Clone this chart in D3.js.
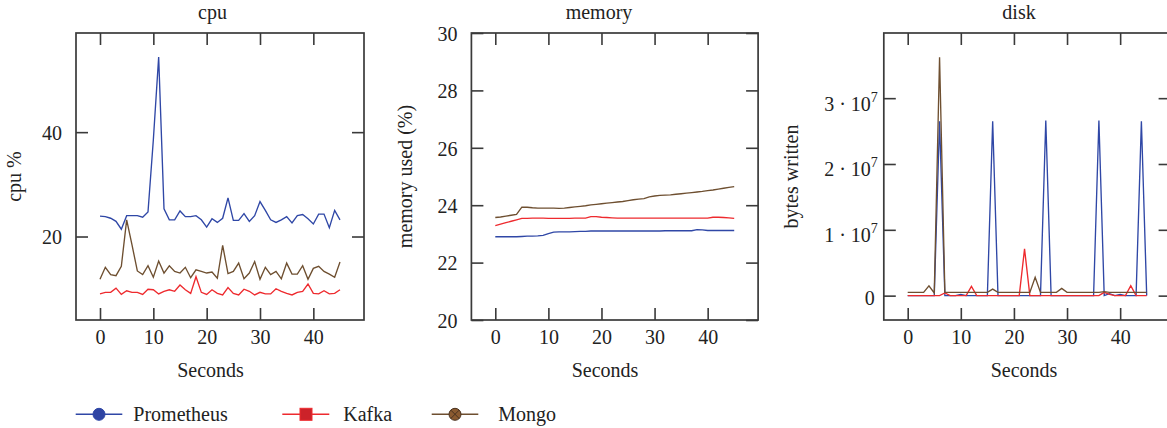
<!DOCTYPE html>
<html><head><meta charset="utf-8">
<script src="https://cdn.jsdelivr.net/npm/d3@7"></script>
<style>
html,body{margin:0;padding:0;background:#fff;}
svg text{font-family:"Liberation Serif","Times New Roman",serif;fill:#222;}
</style></head>
<body>
<svg id="chart" width="1167" height="428"></svg>
<script>
const seconds = [0,1,2,3,4,5,6,7,8,9,10,11,12,13,14,15,16,17,18,19,20,21,22,23,24,25,26,27,28,29,30,31,32,33,34,35,36,37,38,39,40,41,42,43,44,45];
const seriesNames = ["Prometheus","Kafka","Mongo"];
const panelTitles = ["cpu","memory","disk"];
const yLabels = ["cpu %","memory used (%)","bytes written"];
const xLabel = "Seconds";
const xTickValues = [0,10,20,30,40];
const cpuTickValues = [20,40];
const memTickValues = [20,22,24,26,28,30];
const diskTickValues = [0,1e7,2e7,3e7];
const diskTickLabels = [["0",""],["1 · 10","7"],["2 · 10","7"],["3 · 10","7"]];

const cpuPrometheus = [23.9,23.8,23.5,22.9,21.4,24.0,24.0,24.0,23.7,24.7,38.5,54.4,25.3,23.2,23.2,24.9,23.8,23.8,24.0,23.2,21.8,23.4,22.7,23.5,27.4,23.1,23.1,24.4,22.9,24.0,26.7,25.0,23.2,22.7,23.2,23.8,22.6,24.0,24.2,23.4,22.4,24.3,24.3,21.7,25.0,23.2];
const cpuKafka = [9.0,9.3,9.3,10.1,8.9,9.6,9.3,9.3,8.9,9.9,9.8,9.0,9.5,9.8,9.5,10.7,9.8,9.1,12.3,9.3,8.9,9.8,9.1,8.8,10.2,9.1,8.8,9.9,9.5,8.8,9.3,9.0,9.0,10.0,9.5,9.1,8.8,9.3,9.5,10.9,9.1,9.0,9.6,9.0,9.1,9.8];
const cpuMongo = [11.8,14.1,12.7,12.5,14.3,23.2,18.4,13.4,12.7,14.4,12.2,15.3,13.0,14.4,13.3,13.0,14.1,12.1,13.6,13.3,13.0,13.2,12.0,18.3,12.9,13.3,14.9,11.9,13.0,15.2,11.8,14.1,12.7,13.3,11.9,14.9,12.8,12.8,14.4,11.8,13.9,14.3,13.3,12.8,12.2,15.1];

const memPrometheus = [22.90,22.90,22.90,22.90,22.90,22.91,22.92,22.92,22.93,22.95,23.01,23.06,23.07,23.07,23.07,23.08,23.09,23.09,23.10,23.10,23.10,23.10,23.10,23.10,23.10,23.10,23.10,23.10,23.10,23.10,23.10,23.10,23.11,23.11,23.11,23.11,23.11,23.11,23.15,23.14,23.12,23.12,23.12,23.12,23.12,23.12];
const memKafka = [23.29,23.34,23.39,23.44,23.49,23.54,23.54,23.55,23.55,23.55,23.54,23.54,23.54,23.54,23.54,23.55,23.55,23.55,23.60,23.60,23.58,23.57,23.56,23.55,23.55,23.55,23.55,23.55,23.55,23.55,23.55,23.55,23.55,23.55,23.55,23.55,23.55,23.55,23.55,23.55,23.55,23.58,23.58,23.57,23.56,23.54];
const memMongo = [23.57,23.59,23.62,23.65,23.68,23.93,23.93,23.91,23.90,23.90,23.90,23.90,23.89,23.90,23.92,23.94,23.96,23.98,24.01,24.03,24.05,24.07,24.09,24.11,24.13,24.16,24.19,24.21,24.23,24.29,24.32,24.34,24.35,24.36,24.38,24.40,24.42,24.44,24.46,24.48,24.51,24.53,24.56,24.59,24.62,24.65];

const diskPrometheus = [0,0,0,0,0,0,2.65e7,0,0,0,2e5,0,0,0,0,0,2.65e7,0,0,0,0,0,0,0,0,0,2.66e7,0,0,0,0,0,0,0,0,0,2.66e7,0,3e5,0,2e5,0,0,0,2.65e7,0];
const diskKafka = [0,0,0,0,0,0,0,4e5,0,0,0,0,1.4e6,0,0,0,0,0,0,0,0,0,7.1e6,0,0,0,0,0,0,0,0,0,0,0,0,0,0,5e5,2e5,0,0,0,1.5e6,0,0,0];
const diskMongo = [5e5,5e5,5e5,5e5,1.5e6,4e5,3.62e7,5e5,5e5,5e5,5e5,5e5,5e5,5e5,5e5,5e5,1.0e6,5e5,5e5,5e5,5e5,5e5,5e5,5e5,2.8e6,5e5,5e5,5e5,5e5,1.1e6,5e5,5e5,5e5,5e5,5e5,5e5,5e5,6e5,5e5,5e5,5e5,5e5,5e5,5e5,5e5,5e5];

const colors = {Prometheus:"#2f47a6", Kafka:"#ee2a2e", Mongo:"#6e4f30"};
const markerFill = {Prometheus:"#2f44a3", Kafka:"#cc2229", Mongo:"#8a5a30"};

const svg = d3.select("#chart");
const frameColor = "#3a3a3a";
const plotTop = 33, plotBottom = 320;
const xDomain = [-4.5, 49.5];

const panels = [
  {title:panelTitles[0], ylabel:yLabels[0], xr:[76,364], yDomain:[4.0,59.0], yTicks:cpuTickValues,
   data:[cpuPrometheus,cpuKafka,cpuMongo], titleX:212.5, xlabX:210.5, ylabX:21},
  {title:panelTitles[1], ylabel:yLabels[1], xr:[471.4,758.1], yDomain:[20,30], yTicks:memTickValues,
   data:[memPrometheus,memKafka,memMongo], titleX:599, xlabX:605, ylabX:412},
  {title:panelTitles[2], ylabel:yLabels[2], xr:[883.8,1170.6], yDomain:[-0.37e7,3.99e7], yTicks:diskTickValues,
   data:[diskPrometheus,diskKafka,diskMongo], titleX:1019, xlabX:1024, ylabX:798, disk:true}
];

panels.forEach(p => {
  const x = d3.scaleLinear().domain(xDomain).range(p.xr);
  const y = d3.scaleLinear().domain(p.yDomain).range([plotBottom, plotTop]);
  const g = svg.append("g");

  const clipId = "clip" + p.title;
  svg.append("clipPath").attr("id", clipId).append("rect")
    .attr("x", p.xr[0]).attr("y", plotTop).attr("width", p.xr[1]-p.xr[0]).attr("height", plotBottom-plotTop);
  const lg = g.append("g").attr("clip-path", `url(#${clipId})`);
  p.data.forEach((arr, si) => {
    const line = d3.line().x((d,i) => x(seconds[i])).y(d => y(d));
    lg.append("path").datum(arr).attr("d", line)
      .attr("fill","none").attr("stroke", colors[seriesNames[si]])
      .attr("stroke-width",1.35).attr("stroke-linejoin","miter");
  });

  const axB = g.append("g").attr("transform",`translate(0,${plotBottom})`)
    .call(d3.axisBottom(x).tickValues(xTickValues).tickSize(-12).tickPadding(10));
  const axT = g.append("g").attr("transform",`translate(0,${plotTop})`)
    .call(d3.axisTop(x).tickValues(xTickValues).tickSize(-12).tickFormat(""));
  const axL = g.append("g").attr("transform",`translate(${p.xr[0]},0)`)
    .call(d3.axisLeft(y).tickValues(p.yTicks).tickSize(-12).tickPadding(14)
      .tickFormat(p.disk ? "" : d3.format("d")));
  const axR = g.append("g").attr("transform",`translate(${p.xr[1]},0)`)
    .call(d3.axisRight(y).tickValues(p.yTicks).tickSize(-12).tickFormat(""));
  [axB,axT,axL,axR].forEach(a => {
    a.select(".domain").remove();
    a.selectAll(".tick line").attr("stroke",frameColor).attr("stroke-width",1.6);
    a.selectAll(".tick text").attr("font-size",20).attr("fill","#222")
      .attr("font-family","Liberation Serif, serif");
  });
  axL.selectAll(".tick text").attr("dy","0.36em");

  if (p.disk) {
    p.yTicks.forEach((v, i) => {
      const t = g.append("text").attr("x", p.xr[0]-6 - (i===0?3:0)).attr("y", y(v) + (i===0?9:12.5))
        .attr("text-anchor","end").attr("font-size",20);
      t.append("tspan").text(diskTickLabels[i][0]);
      if (diskTickLabels[i][1]) {
        t.append("tspan").attr("font-size",14).attr("dy",-9).text(diskTickLabels[i][1]);
      }
    });
  }

  g.append("rect").attr("x",p.xr[0]).attr("y",plotTop).attr("width",p.xr[1]-p.xr[0]).attr("height",plotBottom-plotTop)
    .attr("fill","none").attr("stroke",frameColor).attr("stroke-width",1.7);

  g.append("text").attr("x",p.titleX).attr("y",19).attr("text-anchor","middle").attr("font-size",20).text(p.title);
  g.append("text").attr("x",p.xlabX).attr("y",377).attr("text-anchor","middle").attr("font-size",20).text(xLabel);
  g.append("text").attr("transform",`translate(${p.ylabX},${(plotTop+plotBottom)/2}) rotate(-90)`)
    .attr("text-anchor","middle").attr("font-size",20).text(p.ylabel);
});

const legendY = 414.3;
const legendItems = [
  {name:seriesNames[0], x0:75.7, x1:122.3, mx:99, tx:133.3, shape:"circle"},
  {name:seriesNames[1], x0:282.3, x1:329.3, mx:306, tx:343.3, shape:"square"},
  {name:seriesNames[2], x0:431.7, x1:478.3, mx:455, tx:498.3, shape:"otimes"}
];
const lgG = svg.append("g");
legendItems.forEach(it => {
  lgG.append("line").attr("x1",it.x0).attr("x2",it.x1).attr("y1",legendY).attr("y2",legendY)
    .attr("stroke",colors[it.name]).attr("stroke-width",1.5);
  if (it.shape==="circle") {
    lgG.append("circle").attr("cx",it.mx).attr("cy",legendY).attr("r",6)
      .attr("fill",markerFill[it.name]).attr("stroke",colors[it.name]).attr("stroke-width",1);
  } else if (it.shape==="square") {
    lgG.append("rect").attr("x",it.mx-6).attr("y",legendY-6).attr("width",12).attr("height",12)
      .attr("fill",markerFill[it.name]).attr("stroke",colors[it.name]).attr("stroke-width",1);
  } else {
    lgG.append("circle").attr("cx",it.mx).attr("cy",legendY).attr("r",6)
      .attr("fill",markerFill[it.name]).attr("stroke","#4a3320").attr("stroke-width",1);
    const d = 6/Math.SQRT2;
    lgG.append("path").attr("d",`M${it.mx-d},${legendY-d}L${it.mx+d},${legendY+d}M${it.mx-d},${legendY+d}L${it.mx+d},${legendY-d}`)
      .attr("stroke","#4a3320").attr("stroke-width",1);
  }
  lgG.append("text").attr("x",it.tx).attr("y",legendY+6.5).attr("font-size",20).text(it.name);
});
</script>
</body></html>
